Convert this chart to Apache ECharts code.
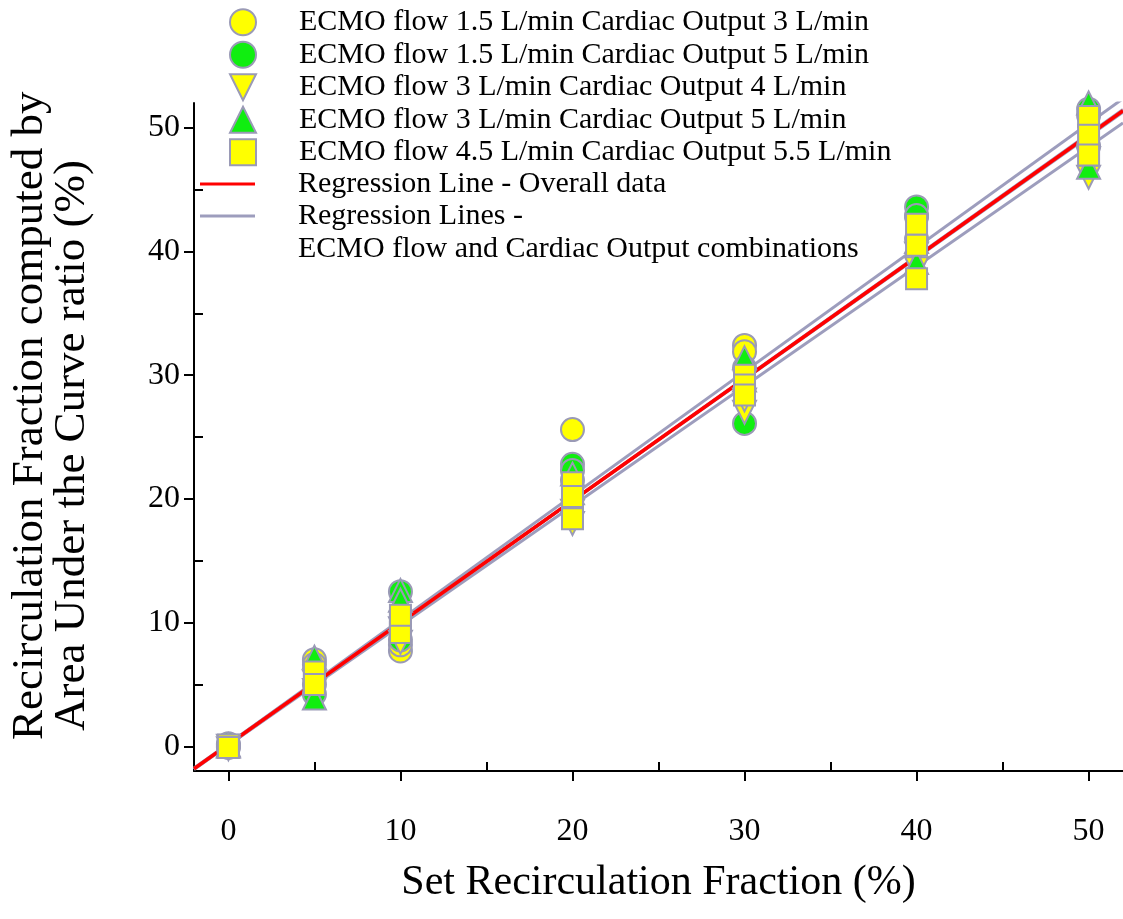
<!DOCTYPE html>
<html>
<head>
<meta charset="utf-8">
<script src="https://cdn.jsdelivr.net/npm/echarts@6/dist/echarts.min.js"></script>
<style>
  html, body { margin: 0; padding: 0; background: #ffffff; }
  #chart { width: 1123px; height: 919px; }
</style>
</head>
<body>
<div id="chart"></div>
<script>
// Set recirculation fractions (%) at which measurements were taken
const setFractions = [0, 5, 10, 20, 30, 40, 50];

// Measured recirculation fraction (%) per set fraction, one list of repeats per set value
const flow15co3 = [[0.1, -0.1], [7.0, 6.6], [7.7, 8.2], [25.6, 21.5], [32.4, 31.9], [42.8, 41.0], [52.1, 51.0]];
const flow15co5 = [[0.0, 0.2], [4.2, 5.0], [12.5, 8.6], [22.8, 22.3], [26.1, 30.6], [43.6, 42.9], [51.5, 48.5]];
const flow3co4 = [[0.0, -0.2], [4.5, 5.2], [8.4, 9.5], [18.0, 19.0], [27.0, 28.0], [38.6, 39.8], [46.0, 47.5]];
const flow3co5 = [[0.1, 0.0], [7.2, 3.9], [12.6, 11.8], [22.0, 20.5], [31.4, 29.6], [39.1, 40.8], [52.0, 46.8]];
const flow45co55 = [[0.0, 0.1, -0.1], [5.5, 6.0, 5.0], [10.0, 9.2, 10.6], [21.3, 20.2, 18.4], [30.0, 29.2, 28.4], [42.2, 40.5, 37.8], [50.9, 49.4, 47.8]];

const seriesNames = [
  'ECMO flow 1.5 L/min Cardiac Output 3 L/min',
  'ECMO flow 1.5 L/min Cardiac Output 5 L/min',
  'ECMO flow 3 L/min Cardiac Output 4 L/min',
  'ECMO flow 3 L/min Cardiac Output 5 L/min',
  'ECMO flow 4.5 L/min Cardiac Output 5.5 L/min'
];

// Regression fits (y = slope * x + intercept)
const overallSlope = 0.985;
const overallIntercept = 0.15;
const comboSlopes = [1.003, 0.988, 0.985, 0.982, 0.967];
const comboIntercepts = [0.2, 0.1, 0.15, 0.2, 0.1];

const overallName = 'Regression Line - Overall data';
const comboName = 'Regression Lines -';
const comboNameLine2 = 'ECMO flow and Cardiac Output combinations';

// Axis settings
const axisMin = -2;
const axisMax = 52;
const majorTicks = [0, 10, 20, 30, 40, 50];
const minorTicks = [5, 15, 25, 35, 45];

const FONT = '"Liberation Serif", "Times New Roman", serif';
const YELLOW = '#ffff00';
const GREEN = '#10ee10';
const EDGE = '#9a9ab6';
const FIT_GREY = '#9d9dbd';
const FIT_RED = '#ff0000';

function toPoints(groups) {
  const pts = [];
  setFractions.forEach((x, i) => groups[i].forEach(v => pts.push([x, v])));
  return pts;
}

function fitLine(slope, intercept) {
  return [axisMin, axisMax].map(x => [x, slope * x + intercept]);
}

const markerDefs = [
  { data: flow15co3, symbol: 'circle', color: YELLOW, size: 23 },
  { data: flow15co5, symbol: 'circle', color: GREEN, size: 23 },
  { data: flow3co4, symbol: 'path://M0,0L20,0L10,20Z', color: YELLOW, size: 23 },
  { data: flow3co5, symbol: 'triangle', color: GREEN, size: 23 },
  { data: flow45co55, symbol: 'rect', color: YELLOW, size: 21 }
];

const series = [];

comboSlopes.forEach((s, i) => {
  series.push({
    type: 'line',
    name: comboName,
    data: fitLine(s, comboIntercepts[i]),
    symbol: 'none',
    color: FIT_GREY,
    lineStyle: { color: FIT_GREY, width: 3 },
    z: 2,
    silent: true
  });
});

series.push({
  type: 'line',
  name: overallName,
  data: fitLine(overallSlope, overallIntercept),
  symbol: 'none',
  color: FIT_RED,
  lineStyle: { color: FIT_RED, width: 3.5 },
  z: 2,
  silent: true
});

markerDefs.forEach((m, i) => {
  series.push({
    type: 'scatter',
    name: seriesNames[i],
    data: toPoints(m.data),
    symbol: m.symbol,
    symbolSize: m.size,
    symbolKeepAspect: true,
    itemStyle: { color: m.color, borderColor: EDGE, borderWidth: 2, opacity: 1 },
    z: 3
  });
});

const chart = echarts.init(document.getElementById('chart'), null, { renderer: 'canvas' });

chart.setOption({
  animation: false,
  backgroundColor: '#ffffff',
  textStyle: { fontFamily: FONT, color: '#000' },
  grid: { left: 194, right: 0, top: 103, bottom: 148, containLabel: false },
  legend: [
    {
      data: seriesNames,
      orient: 'vertical',
      left: 229,
      top: 6,
      padding: 0,
      itemGap: 0,
      itemWidth: 26,
      itemHeight: 26,
      selectedMode: false,
      textStyle: { fontFamily: FONT, fontSize: 30, lineHeight: 32.5, color: '#000', padding: [0, 0, 0, 38] }
    },
    {
      data: [overallName, comboName],
      orient: 'vertical',
      left: 200,
      top: 168,
      padding: 0,
      itemGap: 0,
      icon: 'rect',
      itemWidth: 55,
      itemHeight: 3,
      selectedMode: false,
      textStyle: { fontFamily: FONT, fontSize: 30, lineHeight: 32, color: '#000', padding: [0, 0, 0, 38] }
    }
  ],
  xAxis: [
    {
      type: 'value',
      position: 'bottom',
      min: axisMin,
      max: axisMax,
      name: 'Set Recirculation Fraction (%)',
      nameLocation: 'middle',
      nameGap: 91,
      nameTextStyle: { fontFamily: FONT, fontSize: 42, color: '#000' },
      axisLine: { show: true, onZero: false, lineStyle: { color: '#000', width: 2 } },
      axisTick: { show: true, inside: false, length: 10, customValues: majorTicks, lineStyle: { color: '#000', width: 2 } },
      axisLabel: { show: true, customValues: majorTicks, margin: 45, fontFamily: FONT, fontSize: 32, color: '#000' },
      splitLine: { show: false }
    },
    {
      type: 'value',
      position: 'bottom',
      min: axisMin,
      max: axisMax,
      axisLine: { show: false, onZero: false },
      axisTick: { show: true, inside: true, length: 9, customValues: minorTicks, lineStyle: { color: '#000', width: 2 } },
      axisLabel: { show: false },
      splitLine: { show: false }
    }
  ],
  yAxis: [
    {
      type: 'value',
      position: 'left',
      min: axisMin,
      max: axisMax,
      axisLine: { show: true, onZero: false, lineStyle: { color: '#000', width: 2 } },
      axisTick: { show: true, inside: false, length: 10, customValues: majorTicks, lineStyle: { color: '#000', width: 2 } },
      axisLabel: { show: true, customValues: majorTicks, margin: 14, fontFamily: FONT, fontSize: 32, color: '#000' },
      splitLine: { show: false }
    },
    {
      type: 'value',
      position: 'left',
      min: axisMin,
      max: axisMax,
      axisLine: { show: false, onZero: false },
      axisTick: { show: true, inside: true, length: 9, customValues: minorTicks, lineStyle: { color: '#000', width: 2 } },
      axisLabel: { show: false },
      splitLine: { show: false }
    }
  ],
  graphic: [
    {
      type: 'text',
      x: 30,
      y: 740,
      rotation: Math.PI / 2,
      style: { text: 'Recirculation Fraction computed by', font: '45px ' + FONT, fill: '#000', align: 'left', verticalAlign: 'middle' }
    },
    {
      type: 'text',
      x: 72,
      y: 731,
      rotation: Math.PI / 2,
      style: { text: 'Area Under the Curve ratio (%)', font: '45px ' + FONT, fill: '#000', align: 'left', verticalAlign: 'middle' }
    },
    {
      type: 'text',
      x: 298,
      y: 249,
      style: { text: comboNameLine2, font: '30px ' + FONT, fill: '#000', align: 'left', verticalAlign: 'middle' }
    }
  ],
  series: series
});
</script>
</body>
</html>
